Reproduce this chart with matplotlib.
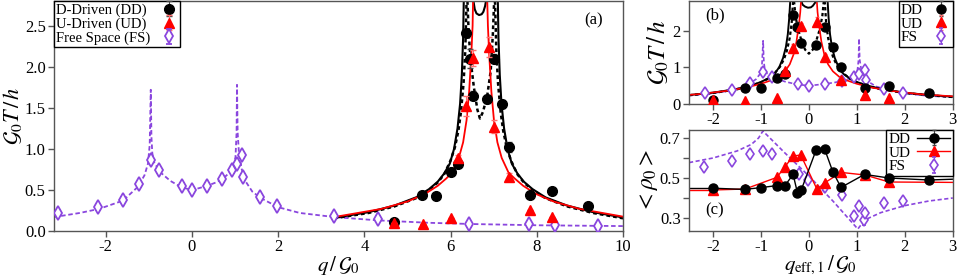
import matplotlib
matplotlib.use("Agg")
import matplotlib.pyplot as plt

plt.rcParams["font.family"] = ["Liberation Serif", "DejaVu Serif"]
plt.rcParams["mathtext.fontset"] = "stix"

PURPLE = "#8A46DE"; RED = "#FF0000"; BLACK = "#000000"; SPINE = "#555555"

# ---- panel (a): measured transmission vs q/G0 ----
dd_q = [4.68, 5.34, 5.67, 6.02, 6.18, 6.35, 6.45, 6.53, 6.84, 7.01, 7.19, 7.36, 7.84, 8.36, 9.18]
dd_T = [0.11, 0.44, 0.43, 0.72, 0.82, 2.41, 2.10, 1.65, 1.61, 2.10, 1.55, 1.02, 0.44, 0.49, 0.30]
dd_err = [0, 0, 0, 0.02, 0.03, 0.05, 0.12, 0.06, 0.05, 0.05, 0.05, 0.06, 0, 0, 0]
ud_q = [4.68, 5.36, 6.02, 6.18, 6.36, 6.53, 6.88, 7.01, 7.36, 7.84, 8.35]
ud_T = [0.10, 0.09, 0.16, 0.89, 1.52, 2.11, 2.24, 1.27, 0.66, 0.25, 0.17]
ud_err = [0, 0, 0, 0.04, 0.12, 0.10, 0.12, 0.08, 0.05, 0, 0]
fs_q = [-3.11, -2.17, -1.60, -1.23, -0.96, -0.76, -0.22, 0.0, 0.34, 0.69, 0.94, 1.04, 1.16, 1.19,
        1.57, 1.97, 3.29, 4.32, 6.43, 7.82, 8.43, 9.42]
fs_T = [0.22, 0.29, 0.38, 0.57, 0.87, 0.74, 0.55, 0.50, 0.55, 0.63, 0.74, 0.82, 0.92, 0.66,
        0.41, 0.30, 0.18, 0.15, 0.08, 0.08, 0.07, 0.06]
fs_err = [0.03] * len(fs_q)

# theory curves
fs_th_q = [-3.2, -2.6, -2.15, -1.6, -1.25, -1.1, -1.02, -0.98, -0.955, -0.94, -0.92, -0.88, -0.8, -0.7,
           -0.5, -0.3, -0.15, 0.0, 0.15, 0.35, 0.55, 0.7, 0.85, 0.95, 1.01, 1.035, 1.045, 1.06, 1.09,
           1.15, 1.25, 1.4, 1.6, 2.0, 2.5, 3.3, 4.3, 5.5, 6.5, 8.0, 10.0]
fs_th_T = [0.17, 0.22, 0.27, 0.37, 0.54, 0.68, 0.82, 1.05, 1.72, 1.15, 0.95, 0.84, 0.77, 0.70,
           0.61, 0.55, 0.52, 0.50, 0.52, 0.55, 0.59, 0.63, 0.70, 0.78, 0.9, 1.2, 1.78, 1.2, 0.95,
           0.76, 0.6, 0.48, 0.40, 0.29, 0.22, 0.17, 0.13, 0.10, 0.085, 0.07, 0.06]

dd_th_left_q = [3.30, 4.10, 4.70, 5.20, 5.50, 5.70, 5.85, 5.98, 6.08, 6.16, 6.22, 6.26, 6.29, 6.305]
dd_th_left_T = [0.16, 0.23, 0.31, 0.41, 0.51, 0.60, 0.70, 0.82, 1.00, 1.25, 1.55, 1.90, 2.35, 2.8]
dd_th_right_q = [7.095, 7.11, 7.14, 7.18, 7.24, 7.32, 7.42, 7.55, 7.70, 7.90, 8.20, 8.70, 9.30, 10.0]
dd_th_right_T = [2.8, 2.35, 1.90, 1.55, 1.25, 1.00, 0.82, 0.70, 0.60, 0.51, 0.41, 0.31, 0.23, 0.165]
dd_th_arc_q = [6.53, 6.56, 6.60, 6.66, 6.72, 6.76, 6.80, 6.82]
dd_th_arc_T = [2.8, 2.70, 2.65, 2.63, 2.64, 2.67, 2.74, 2.8]

dot_left_q = [3.30, 4.10, 4.70, 5.20, 5.50, 5.70, 5.85, 6.00, 6.10, 6.18, 6.24, 6.30, 6.34, 6.37]
dot_left_T = [0.155, 0.22, 0.30, 0.40, 0.50, 0.59, 0.69, 0.86, 1.02, 1.22, 1.45, 1.8, 2.2, 2.8]
dot_mid_q = [6.39, 6.42, 6.47, 6.54, 6.62, 6.68, 6.75, 6.85, 6.93, 6.98, 7.01]
dot_mid_T = [2.8, 2.4, 2.05, 1.75, 1.48, 1.37, 1.45, 1.65, 1.95, 2.4, 2.8]
dot_right_q = [7.03, 7.06, 7.10, 7.16, 7.22, 7.30, 7.40, 7.55, 7.70, 7.90, 8.20, 8.70, 9.30, 10.0]
dot_right_T = [2.8, 2.2, 1.8, 1.45, 1.22, 1.02, 0.86, 0.69, 0.59, 0.50, 0.40, 0.30, 0.22, 0.155]

ud_th_left_q = [3.30, 4.40, 5.00, 5.40, 5.70, 5.90, 6.03, 6.19, 6.29, 6.37, 6.43, 6.48, 6.51, 6.52]
ud_th_left_T = [0.17, 0.27, 0.36, 0.45, 0.55, 0.64, 0.71, 0.89, 1.08, 1.35, 1.70, 2.15, 2.5, 2.8]
ud_th_right_q = [6.85, 6.865, 6.895, 6.945, 7.005, 7.085, 7.185, 7.345, 7.485, 7.685, 7.985, 8.385, 8.985, 10.0]
ud_th_right_T = [2.8, 2.5, 2.15, 1.70, 1.35, 1.08, 0.89, 0.71, 0.64, 0.55, 0.45, 0.36, 0.27, 0.175]

# ---- panel (b): vs q_eff,1/G0 ----
ddb_q = [-2.0, -1.34, -1.0, -0.67, -0.5, -0.33, -0.24, -0.16, 0.15, 0.33, 0.5, 0.67, 1.16, 1.67, 2.5]
ddb_T = dd_T
udb_q = [-2.0, -1.33, -0.67, -0.5, -0.33, -0.17, 0.17, 0.33, 0.67, 1.17, 1.67]
udb_T = ud_T

bdd_left_q = [-2.5, -2.0, -1.5, -1.2, -1.0, -0.85, -0.72, -0.62, -0.54, -0.48, -0.44, -0.41, -0.39]
bdd_left_T = [0.245, 0.31, 0.41, 0.51, 0.60, 0.70, 0.82, 1.00, 1.25, 1.55, 1.90, 2.35, 2.8]
bdd_right_q = [0.39, 0.41, 0.44, 0.48, 0.54, 0.62, 0.72, 0.85, 1.0, 1.2, 1.5, 2.0, 2.5, 3.0]
bdd_right_T = [2.8, 2.35, 1.90, 1.55, 1.25, 1.00, 0.82, 0.70, 0.60, 0.51, 0.41, 0.31, 0.245, 0.20]
bdd_arc_q = [-0.16, -0.13, -0.08, -0.02, 0.04, 0.08, 0.12, 0.15]
bdd_arc_T = [2.8, 2.70, 2.65, 2.62, 2.63, 2.67, 2.74, 2.8]
bdot_left_q = [-2.5, -2.0, -1.5, -1.2, -1.0, -0.85, -0.7, -0.6, -0.52, -0.46, -0.40, -0.36, -0.33]
bdot_left_T = [0.24, 0.30, 0.40, 0.50, 0.59, 0.69, 0.86, 1.02, 1.22, 1.45, 1.8, 2.2, 2.8]
bdot_mid_q = [-0.31, -0.28, -0.23, -0.16, -0.08, 0.0, 0.08, 0.16, 0.23, 0.28, 0.31]
bdot_mid_T = [2.8, 2.4, 2.05, 1.75, 1.48, 1.37, 1.48, 1.75, 2.05, 2.4, 2.8]
bdot_right_q = [0.33, 0.36, 0.40, 0.46, 0.52, 0.6, 0.7, 0.85, 1.0, 1.2, 1.5, 2.0, 2.5, 3.0]
bdot_right_T = [2.8, 2.2, 1.8, 1.45, 1.22, 1.02, 0.86, 0.69, 0.59, 0.50, 0.40, 0.30, 0.24, 0.19]
bud_left_q = [-2.5, -2.3, -1.7, -1.3, -1.0, -0.8, -0.66, -0.5, -0.4, -0.32, -0.26, -0.21, -0.18, -0.165]
bud_left_T = [0.25, 0.27, 0.36, 0.45, 0.55, 0.64, 0.71, 0.89, 1.08, 1.35, 1.70, 2.15, 2.5, 2.8]
bud_right_q = [0.165, 0.18, 0.21, 0.26, 0.32, 0.4, 0.5, 0.66, 0.8, 1.0, 1.3, 1.7, 2.3, 3.0]
bud_right_T = [2.8, 2.5, 2.15, 1.70, 1.35, 1.08, 0.89, 0.71, 0.64, 0.55, 0.45, 0.36, 0.27, 0.21]

# ---- panel (c): mean density ----
ddc_rho = [0.449, 0.443, 0.452, 0.462, 0.462, 0.518, 0.427, 0.44, 0.64, 0.643, 0.53, 0.453, 0.518, 0.50, 0.49]
ddc_rho_err = [0, 0, 0, 0, 0, 0, 0, 0, 0.012, 0.012, 0, 0, 0, 0, 0]
udc_rho = [0.44, 0.445, 0.503, 0.556, 0.61, 0.615, 0.443, 0.476, 0.528, 0.515, 0.48]
dd_rho_edge = [0.449, 0.494]
ud_rho_edge = [0.44, 0.478]
fsc_q = [-2.18, -1.61, -1.22, -0.96, -0.77, -0.21, -0.01, 0.34, 0.70, 0.93, 1.04, 1.15, 1.18, 1.57, 1.96]
fsc_rho = [0.556, 0.586, 0.62, 0.635, 0.62, 0.52, 0.49, 0.457, 0.415, 0.31, 0.36, 0.29, 0.326, 0.373, 0.385]
fsc_err = [0.015, 0.015, 0.015, 0.018, 0.015, 0.015, 0.015, 0.015, 0.015, 0.02, 0.02, 0.025, 0.02, 0.015, 0.015]
fsc_th_q = [-2.5, -2.0, -1.5, -1.2, -1.05, -0.96, -0.5, 0.0, 0.5, 1.02, 1.1, 1.25, 1.5, 2.0, 2.5, 3.0]
fsc_th_rho = [0.577, 0.60, 0.635, 0.668, 0.70, 0.735, 0.625, 0.51, 0.385, 0.245, 0.27, 0.30, 0.327, 0.362, 0.385, 0.40]

TICK = 12
fig = plt.figure(figsize=(9.59, 2.76), dpi=100)
axa = fig.add_axes([0.0563, 0.163, 0.5934, 0.833])
axb = fig.add_axes([0.7185, 0.623, 0.275, 0.373])
axc = fig.add_axes([0.7185, 0.163, 0.275, 0.366])

def style(ax):
    for s in ax.spines.values():
        s.set_color(SPINE); s.set_linewidth(1.0)
    ax.tick_params(direction="out", length=4, width=1, color=SPINE, labelsize=TICK, pad=2)

def make_legend(ax, order, loc, hl, htp):
    h, l = ax.get_legend_handles_labels()
    idx = [l.index(k) for k in order]
    leg = ax.legend([h[i] for i in idx], [l[i] for i in idx], loc=loc, markerfirst=False,
                    fontsize=11, frameon=True, fancybox=False, edgecolor=BLACK, framealpha=1,
                    borderaxespad=0, borderpad=0.15, labelspacing=0.0, handlelength=hl,
                    handletextpad=htp)
    leg.get_frame().set_linewidth(1.0)
    return leg

def left_align(leg):
    # text left, markers in one column (like the original)
    fig.canvas.draw()
    r = fig.canvas.get_renderer()
    for col in leg._legend_handle_box.get_children():
        items = col.get_children()
        w = max(it.get_bbox(r).width for it in items)
        for it in items:
            it.mode = "expand"
            it.width = w

# (a)
axa.plot(fs_th_q, fs_th_T, ls=(0, (2.5, 1.5)), color=PURPLE, lw=1.3)
for xq, yT in [(dot_left_q, dot_left_T), (dot_mid_q, dot_mid_T), (dot_right_q, dot_right_T)]:
    axa.plot(xq, yT, ls=(0, (1.5, 1.2)), color=BLACK, lw=1.8)
for xq, yT in [(dd_th_left_q, dd_th_left_T), (dd_th_right_q, dd_th_right_T), (dd_th_arc_q, dd_th_arc_T)]:
    axa.plot(xq, yT, color=BLACK, lw=1.5)
for xq, yT in [(ud_th_left_q, ud_th_left_T), (ud_th_right_q, ud_th_right_T)]:
    axa.plot(xq, yT, color=RED, lw=1.3)
axa.errorbar(fs_q, fs_T, yerr=fs_err, fmt="d", ms=7, mfc="white", mec=PURPLE, mew=1.3,
             ecolor=PURPLE, elinewidth=0.8, capsize=2, label="Free Space (FS)", zorder=4)
axa.errorbar(dd_q, dd_T, yerr=dd_err, fmt="o", ms=7, color=BLACK, ecolor="#444444",
             elinewidth=0.8, capsize=2, label="D-Driven (DD)", zorder=5)
axa.errorbar(ud_q, ud_T, yerr=ud_err, fmt="^", ms=7.5, color=RED, ecolor="#FF7070",
             elinewidth=0.8, capsize=2, label="U-Driven (UD)", zorder=6)
axa.set_xlim(-3.2, 10)
axa.set_ylim(0, 2.8)
axa.set_xticks([-2, 0, 2, 4, 6, 8, 10])
axa.set_yticks([0, 0.5, 1.0, 1.5, 2.0, 2.5])
axa.set_yticklabels(["0.0", "0.5", "1.0", "1.5", "2.0", "2.5"])
axa.set_xticklabels(["-2", "0", "2", "4", "6", "8", "10"])
axa.set_xlabel(r"$q\,/\,\mathcal{G}_0$", fontsize=15, labelpad=-1)
axa.set_ylabel(r"$\mathcal{G}_0T\,/\,h$", fontsize=16)
axa.yaxis.set_label_coords(-0.052, 0.5)
axa.text(0.965, 0.95, "(a)", transform=axa.transAxes, fontsize=12, ha="right", va="top")
style(axa)
lega = make_legend(axa, ["D-Driven (DD)", "U-Driven (UD)", "Free Space (FS)"], "upper left", 1.2, 0.6)
for t in lega.get_texts():
    t.set_fontsize(10.5)

# (b)
axb.plot(fs_th_q, fs_th_T, ls=(0, (2.5, 1.5)), color=PURPLE, lw=1.2)
for xq, yT in [(bdot_left_q, bdot_left_T), (bdot_mid_q, bdot_mid_T), (bdot_right_q, bdot_right_T)]:
    axb.plot(xq, yT, ls=(0, (1.5, 1.2)), color=BLACK, lw=1.6)
for xq, yT in [(bdd_left_q, bdd_left_T), (bdd_right_q, bdd_right_T), (bdd_arc_q, bdd_arc_T)]:
    axb.plot(xq, yT, color=BLACK, lw=1.4)
for xq, yT in [(bud_left_q, bud_left_T), (bud_right_q, bud_right_T)]:
    axb.plot(xq, yT, color=RED, lw=1.2)
axb.errorbar(fs_q, fs_T, yerr=fs_err, fmt="d", ms=6.5, mfc="white", mec=PURPLE, mew=1.2,
             ecolor=PURPLE, elinewidth=0.8, capsize=1.5, label="FS", zorder=4)
axb.errorbar(ddb_q, ddb_T, yerr=dd_err, fmt="o", ms=6.5, color=BLACK, ecolor="#444444",
             elinewidth=0.8, capsize=1.5, label="DD", zorder=5)
axb.errorbar(udb_q, udb_T, yerr=ud_err, fmt="^", ms=7, color=RED, ecolor="#FF7070",
             elinewidth=0.8, capsize=1.5, label="UD", zorder=6)
axb.set_xlim(-2.5, 3.0)
axb.set_ylim(0, 2.8)
axb.set_xticks([-2, -1, 0, 1, 2, 3])
axb.set_xticklabels(["-2", "-1", "0", "1", "2", "3"])
axb.set_yticks([0, 1, 2])
axb.set_ylabel(r"$\mathcal{G}_0T\,/\,h$", fontsize=18, labelpad=1)
axb.text(0.06, 0.94, "(b)", transform=axb.transAxes, fontsize=12, ha="left", va="top")
style(axb)
legb = make_legend(axb, ["DD", "UD", "FS"], "upper right", 1.2, 0.6)

# (c)
axc.plot(fsc_th_q, fsc_th_rho, ls=(0, (2.5, 1.5)), color=PURPLE, lw=1.2)
axc.plot([-2.5, ddb_q[0]], [dd_rho_edge[0], ddc_rho[0]], color=BLACK, lw=1.0)
axc.plot([ddb_q[-1], 3.0], [ddc_rho[-1], dd_rho_edge[1]], color=BLACK, lw=1.0)
axc.plot([-2.5, udb_q[0]], [ud_rho_edge[0], udc_rho[0]], color=RED, lw=1.0)
axc.plot([udb_q[-1], 3.0], [udc_rho[-1], ud_rho_edge[1]], color=RED, lw=1.0)
axc.errorbar(udb_q, udc_rho, fmt="-^", ms=7, color=RED, lw=1.0, label="UD", zorder=4)
axc.errorbar(ddb_q, ddc_rho, yerr=ddc_rho_err, fmt="-o", ms=6.5, color=BLACK, lw=1.0,
             ecolor="#444444", elinewidth=0.8, capsize=1.5, label="DD", zorder=5)
axc.errorbar(fsc_q, fsc_rho, yerr=fsc_err, fmt="d", ms=6.5, mfc="white", mec=PURPLE, mew=1.2,
             ecolor=PURPLE, elinewidth=0.8, capsize=1.5, label="FS", zorder=3)
axc.set_xlim(-2.5, 3.0)
axc.set_ylim(0.235, 0.74)
axc.set_xticks([-2, -1, 0, 1, 2, 3])
axc.set_xticklabels(["-2", "-1", "0", "1", "2", "3"])
axc.set_yticks([0.3, 0.5, 0.7])
axc.set_yticks([0.4, 0.6], minor=True)
axc.tick_params(which="minor", direction="out", length=4, width=1, color=SPINE)
axc.set_xlabel(r"$q_{\mathrm{eff},1}\,/\,\mathcal{G}_0$", fontsize=15, labelpad=-1)
axc.set_ylabel(r"$<\rho_0>$", fontsize=17, labelpad=0)
axc.text(0.06, 0.12, "(c)", transform=axc.transAxes, fontsize=12, ha="left", va="bottom")
style(axc)
legc = make_legend(axc, ["DD", "UD", "FS"], "upper right", 2.2, 0.4)

for lg in (lega, legb, legc):
    left_align(lg)

fig.savefig("out.png", dpi=100)
